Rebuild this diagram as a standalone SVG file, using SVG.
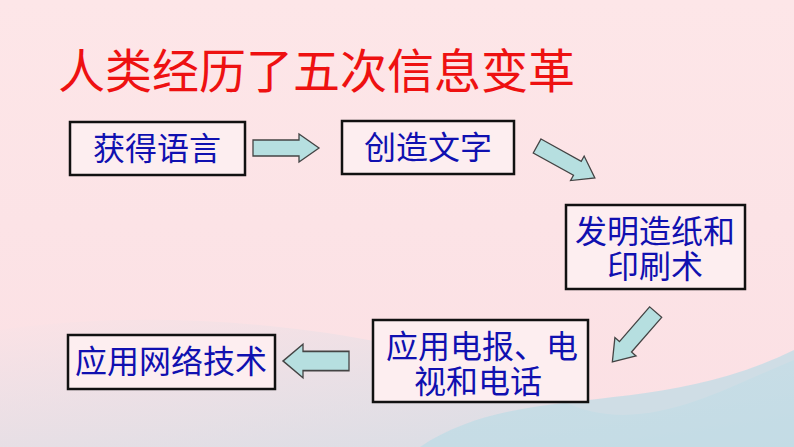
<svg xmlns="http://www.w3.org/2000/svg" xmlns:xlink="http://www.w3.org/1999/xlink" width="794" height="447" viewBox="0 0 794 447">
<defs>
<linearGradient id="bg" x1="0" y1="0" x2="0" y2="1"><stop offset="0" stop-color="#fde6e8"/><stop offset="1" stop-color="#fbe0e4"/></linearGradient>
<linearGradient id="wave" x1="0" y1="0" x2="1" y2="1"><stop offset="0" stop-color="#fbe2e6"/><stop offset="1" stop-color="#b9dbe6"/></linearGradient>
<polygon id="arr" points="-33,-8 13,-8 13,-14 33,0 13,14 13,8 -33,8" fill="#b6dfe0" stroke="#444" stroke-width="1.3"/>
<style>
.box{fill:#fdeef0;stroke:#111;stroke-width:2.5}
.t{font-family:"Liberation Sans","Noto Sans CJK SC",sans-serif;fill:#1010b0;font-size:32px;text-anchor:middle}
</style>
</defs>
<rect width="794" height="447" fill="url(#bg)"/>
<path d="M0,330 C200,300 450,340 560,400 C640,440 720,390 794,360 L794,447 L0,447 Z" fill="url(#wave)" opacity="0.6"/>
<path d="M420,447 C520,380 650,420 794,350 L794,447 Z" fill="#bcdce6" opacity="0.7"/>
<text x="58" y="88" font-family="'Liberation Sans','Noto Sans CJK SC',sans-serif" font-size="47" fill="#ee1111">人类经历了五次信息变革</text>
<g id="connectors">
<use xlink:href="#arr" transform="translate(286,148)"/>
<use xlink:href="#arr" transform="translate(566,162) rotate(29)"/>
<use xlink:href="#arr" transform="translate(634,337) rotate(131)"/>
<use xlink:href="#arr" transform="translate(316,361) rotate(180) scale(1,1.2)"/>
</g>
<g id="n1"><rect class="box" x="70" y="122" width="175" height="53"/><text class="t" x="157" y="160">获得语言</text></g>
<g id="n2"><rect class="box" x="342" y="121" width="172" height="53"/><text class="t" x="428" y="159">创造文字</text></g>
<g id="n3"><rect class="box" x="566" y="205" width="179" height="84"/><text class="t" x="655" y="243">发明造纸和</text><text class="t" x="655" y="278">印刷术</text></g>
<g id="n4"><rect class="box" x="373" y="320" width="215" height="82"/><text class="t" x="482" y="358">应用电报、电</text><text class="t" x="478" y="393">视和电话</text></g>
<g id="n5"><rect class="box" x="68" y="335" width="207" height="54"/><text class="t" x="171" y="373">应用网络技术</text></g>
</svg>
